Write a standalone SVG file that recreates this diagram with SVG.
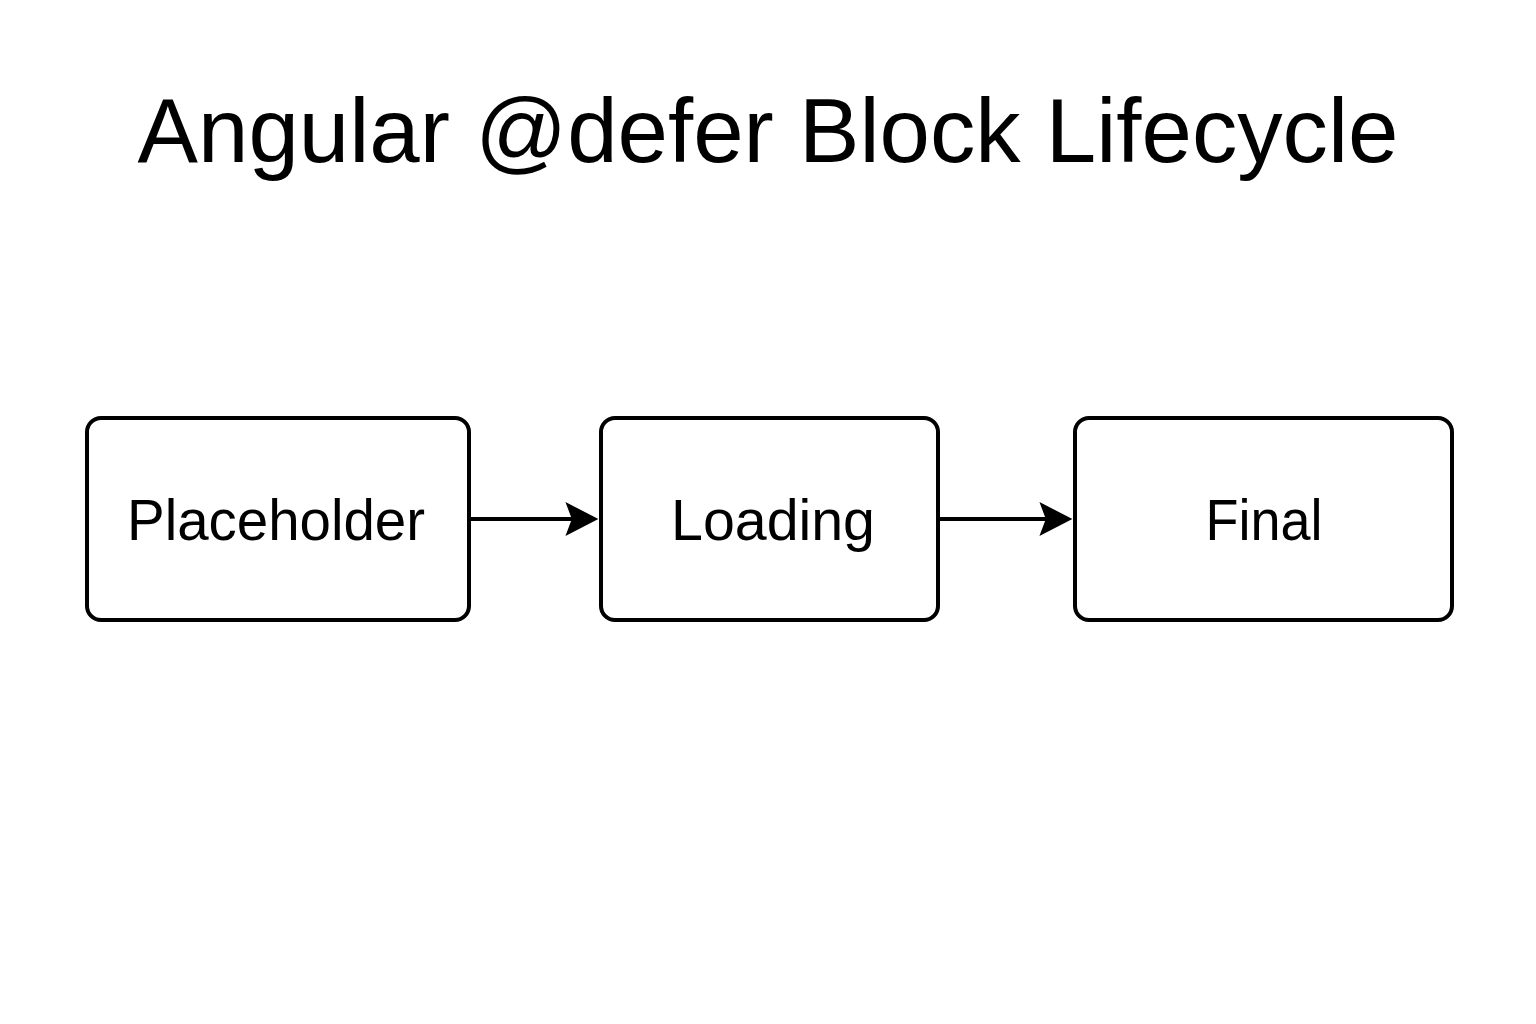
<svg xmlns="http://www.w3.org/2000/svg" width="1536" height="1024" viewBox="0 0 1536 1024">
<defs>
<style>
.node rect{fill:#fff;stroke:#000;stroke-width:4}
.lbl{font-family:"Liberation Sans",Arial,sans-serif;font-size:57px;fill:#000;text-anchor:middle}
.title{font-family:"Liberation Sans",Arial,sans-serif;font-size:90px;fill:#000;text-anchor:middle}
.conn line{stroke:#000;stroke-width:4}
</style>
<marker id="ah" markerUnits="userSpaceOnUse" markerWidth="34" markerHeight="34" viewBox="0 0 32 32" refX="25" refY="16" orient="auto">
<path d="M0,0 L31,16 L0,32 L6,16 Z" fill="#000"/>
</marker>
</defs>
<rect width="1536" height="1024" fill="#fff"/>
<text class="title" x="768" y="162" textLength="1261" lengthAdjust="spacingAndGlyphs">Angular @defer Block Lifecycle</text>
<g id="placeholder" class="node">
<rect x="87" y="418" width="382" height="202" rx="14"/>
<text class="lbl" x="276" y="540" textLength="298" lengthAdjust="spacingAndGlyphs">Placeholder</text>
</g>
<g id="loading" class="node">
<rect x="601" y="418" width="337" height="202" rx="14"/>
<text class="lbl" x="773" y="540" textLength="204" lengthAdjust="spacingAndGlyphs">Loading</text>
</g>
<g id="final" class="node">
<rect x="1075" y="418" width="377" height="202" rx="14"/>
<text class="lbl" x="1264" y="540" textLength="117" lengthAdjust="spacingAndGlyphs">Final</text>
</g>
<g id="connectors" class="conn">
<line x1="470" y1="519" x2="592" y2="519" marker-end="url(#ah)"/>
<line x1="940" y1="519" x2="1066" y2="519" marker-end="url(#ah)"/>
</g>
</svg>
